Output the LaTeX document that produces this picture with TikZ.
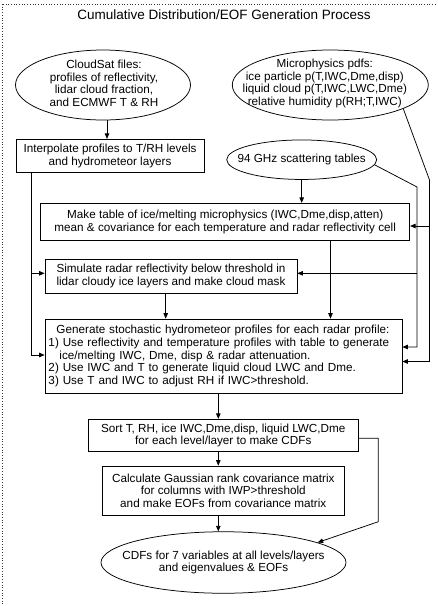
\documentclass[tikz,border=0pt]{standalone}
\usepackage{fontspec}
\setmainfont{Liberation Sans}
\usetikzlibrary{shapes.geometric,arrows.meta,calc}
\begin{document}
\begin{tikzpicture}[x=1pt,y=-1pt,
  txt/.style={font=\fontsize{11.7}{12.6}\selectfont, align=center, inner sep=0pt},
  box/.style={txt, draw, line width=0.75pt},
  ell/.style={draw, ellipse, line width=0.75pt, inner sep=0pt},
  conn/.style={line width=0.75pt},
  arr/.style={conn, -{Triangle[length=5.5pt,width=4.5pt]}},
]
\useasboundingbox (0,0) rectangle (438,606);
\clip (0,0) rectangle (438,606);
\draw[dotted, line width=0.7pt, black!80] (2.5,4) rectangle (445,615);

\node[txt, font=\fontsize{13.5}{15}\selectfont] (title) at (224,14.5) {Cumulative Distribution/EOF Generation Process};

% ellipses
\node[ell, minimum width=175pt, minimum height=70pt] (cloud) at (103,85) {};
\node[txt] (cloudt) at (104,83.5) {CloudSat files:\\profiles of reflectivity,\\lidar cloud fraction,\\and ECMWF T \& RH};
\node[ell, minimum width=196pt, minimum height=70pt] (micro) at (330.3,85) {};
\node[txt] (microt) at (324.8,83.5) {Microphysics pdfs:\\ice particle p(T,IWC,Dme,disp)\\liquid cloud p(T,IWC,LWC,Dme)\\relative humidity p(RH;T,IWC)};
\node[ell, minimum width=150pt, minimum height=39.5pt] (scat) at (301.7,159.7) {};
\node[txt] (scatt) at (scat.center) {94 GHz scattering tables};
\node[ell, minimum width=245pt, minimum height=61.5pt] (cdf) at (223.5,562.5) {};
\node[txt] (cdft) at (cdf.center) {CDFs for 7 variables at all levels/layers\\and eigenvalues \& EOFs};

% boxes
\node[box, minimum width=188pt, minimum height=33.5pt] (interp) at (110,156) {Interpolate profiles to T/RH levels\\and hydrometeor layers};
\node[box, minimum width=369pt, minimum height=37.5pt] (make) at (225.2,222) {Make table of ice/melting microphysics (IWC,Dme,disp,atten)\\mean \& covariance for each temperature and radar reflectivity cell};
\node[box, minimum width=252pt, minimum height=34pt] (sim) at (171,276) {Simulate radar reflectivity below threshold in\\lidar cloudy ice layers and make cloud mask};
\node[box, minimum width=357pt, minimum height=74pt, text width=350pt, align=left] (gen) at (223.5,356) {\hspace*{8pt}Generate stochastic hydrometeor profiles for each radar profile:\\1) Use reflectivity and temperature profiles with table to generate\\\hspace*{11pt}ice/melting IWC, Dme, disp \& radar attenuation.\\2) Use IWC and T to generate liquid cloud LWC and Dme.\\3) Use T and IWC to adjust RH if IWC>threshold.};
\node[box, minimum width=270pt, minimum height=32.5pt] (sort) at (223.3,435.5) {Sort T, RH, ice IWC,Dme,disp, liquid LWC,Dme\\for each level/layer to make CDFs};
\node[box, minimum width=241.5pt, minimum height=49pt] (calc) at (223.3,490.5) {Calculate Gaussian rank covariance matrix\\for columns with IWP>threshold\\and make EOFs from covariance matrix};

% helper coordinates
\coordinate (xL) at (31,0);
\coordinate (xC) at (107,0);
\coordinate (xSim) at (165.7,0);
\coordinate (xMk) at (330.5,0);
\coordinate (xMid) at (218.3,0);
\coordinate (ySim) at (0,273.3);
\coordinate (yGL) at (0,355);
\coordinate (yGS) at (0,347);
\coordinate (yGM) at (0,361.5);
\coordinate (yMk) at (0,226);
\coordinate (ySort) at (0,438.3);
\coordinate (sbend) at (417,187);
\coordinate (mbend) at (429.5,180);
\coordinate (rb) at (378.3,521.7);

% connectors
\draw[arr] (cloud.south -| xC) -- (interp.north -| xC);
\draw[arr] (interp.south -| xL) |- (gen.west |- yGL);
\draw[arr] (xL |- ySim) -- (sim.west |- ySim);
\draw[arr] (scat.south) -- (make.north -| scat.south);
\draw[arr] (scat.-4.6) -- (sbend) |- (gen.east |- yGS);
\draw[arr] (sbend |- ySim) -- (sim.east |- ySim);
\draw[arr] (micro.-18.5) -- (mbend) |- (gen.east |- yGM);
\draw[arr] (mbend |- yMk) -- (make.east |- yMk);
\draw[arr] (make.south -| xMk) -- (gen.north -| xMk);
\draw[arr] (sim.south -| xSim) -- (gen.north -| xSim);
\draw[arr] (gen.south -| xMid) -- (sort.north -| xMid);
\draw[arr] (sort.south -| xMid) -- (calc.north -| xMid);
\draw[arr] (calc.south -| xMid) -- (cdf.north -| xMid);
\draw[arr] (sort.east |- ySort) -| (rb) -- (cdf.12);
\end{tikzpicture}
\end{document}
